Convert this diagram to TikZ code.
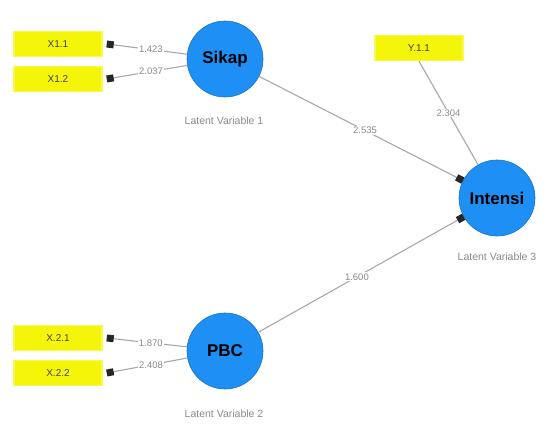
\documentclass[tikz,border=0pt]{standalone}
\usepackage{fontspec}
\setmainfont{Liberation Sans}
\usetikzlibrary{arrows.meta}
\definecolor{lvblue}{HTML}{1E8FF5}
\definecolor{indyellow}{HTML}{F5F50A}
\definecolor{pathgray}{HTML}{A8A8A8}
\definecolor{textgray}{HTML}{8A8A8A}

\begin{document}
\begin{tikzpicture}[
    x=1pt, y=-1pt,
    lv/.style={circle, fill=lvblue, draw=lvblue!80!black, line width=0.6pt, minimum size=76pt, inner sep=0pt, font=\bfseries\fontsize{17}{19}\selectfont},
    ind/.style={rectangle, fill=indyellow, draw=indyellow!70!white, line width=1.5pt, minimum width=88pt, minimum height=25pt, inner sep=0pt, font=\fontsize{10}{12}\selectfont, text=black!75},
    path/.style={draw=pathgray, line width=1.1pt},
    sq/.style={-{Square[length=7pt, width=7pt, line width=0pt, fill=black!85, color=black!85]}},
    coef/.style={font=\fontsize{9.5}{11}\selectfont, text=textgray, fill=white, inner sep=1pt},
    lvname/.style={font=\fontsize{10.5}{12}\selectfont, text=textgray}
]

\useasboundingbox (0,0) rectangle (548,423);

% Latent variables
\node[lv] (sikap) at (225,59) {Sikap};
\node[lv] (intensi) at (497,198) {Intensi};
\node[lv] (pbc) at (225,351) {PBC};

\node[lvname] (sikapname) at (224,121) {Latent Variable 1};
\node[lvname] (intensiname) at (497,257) {Latent Variable 3};
\node[lvname] (pbcname) at (224,414) {Latent Variable 2};

% Indicators
\node[ind] (x11) at (58,44) {X1.1};
\node[ind] (x12) at (58,79) {X1.2};
\node[ind] (x21) at (58,338) {X.2.1};
\node[ind] (x22) at (58,373) {X.2.2};
\node[ind] (y11) at (419,48) {Y.1.1};

\coordinate (x11end) at ([xshift=4pt]x11.east);
\coordinate (x12end) at ([xshift=4pt]x12.east);
\coordinate (x21end) at ([xshift=4pt]x21.east);
\coordinate (x22end) at ([xshift=4pt]x22.east);

% Outer loadings
\draw[path, sq] (sikap) -- (x11end) node[coef, pos=0.45] {1.423};
\draw[path, sq] (sikap) -- (x12end) node[coef, pos=0.45] {2.037};
\draw[path, sq] (pbc) -- (x21end) node[coef, pos=0.45] {1.870};
\draw[path, sq] (pbc) -- (x22end) node[coef, pos=0.45] {2.408};
\draw[path] (intensi) -- (y11.south) node[coef, pos=0.5] {2.304};

% Inner paths
\draw[path, sq] (sikap) -- (intensi) node[coef, pos=0.52] {2.535};
\draw[path, sq] (pbc) -- (intensi) node[coef, pos=0.48] {1.600};

\end{tikzpicture}
\end{document}
